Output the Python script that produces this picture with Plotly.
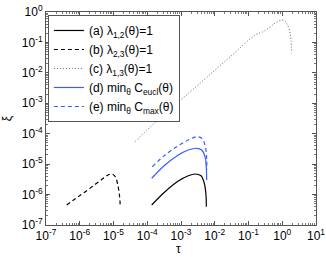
import plotly.graph_objects as go

# (a) lambda_{1,2}(theta)=1
tau_a = [1.355e-4, 3.36e-4, 8.32e-4, 1.645e-3, 2.60e-3, 3.92e-3, 4.90e-3, 5.50e-3, 5.62e-3]
xi_a = [4.55e-7, 1.244e-6, 2.79e-6, 4.17e-6, 4.74e-6, 4.17e-6, 2.35e-6, 9.69e-7, 4.0e-7]

# (b) lambda_{2,3}(theta)=1
tau_b = [4.10e-7, 7.23e-7, 1.43e-6, 2.83e-6, 4.89e-6, 6.87e-6, 9.03e-6, 1.147e-5, 1.36e-5, 1.51e-5, 1.59e-5]
xi_b = [4.55e-7, 7.16e-7, 1.22e-6, 2.14e-6, 3.37e-6, 4.40e-6, 4.74e-6, 3.78e-6, 1.91e-6, 8.98e-7, 3.91e-7]

# (c) lambda_{1,3}(theta)=1
tau_c = [4.34e-5, 2.08e-4, 3.66e-3, 2.83e-2, 0.156, 0.269, 0.434, 0.653, 0.964, 1.205, 1.479, 1.698, 1.815, 1.905]
xi_c = [5.47e-5, 2.82e-4, 4.54e-3, 3.32e-2, 0.175, 0.225, 0.321, 0.452, 0.546, 0.506, 0.347, 0.204, 0.120, 0.044]

# (d) min C_eucl
tau_d = [1.355e-4, 3.36e-4, 8.32e-4, 1.645e-3, 2.92e-3, 4.10e-3, 5.14e-3, 5.62e-3, 5.77e-3]
xi_d = [3.43e-6, 9.37e-6, 2.0e-5, 2.92e-5, 3.32e-5, 2.92e-5, 1.76e-5, 7.47e-6, 3.01e-6]

# (e) min C_max
tau_e = [1.41e-4, 3.36e-4, 8.32e-4, 1.645e-3, 2.92e-3, 4.10e-3, 5.14e-3, 5.77e-3, 5.77e-3]
xi_e = [8.24e-6, 2.0e-5, 4.04e-5, 6.22e-5, 7.98e-5, 7.07e-5, 4.26e-5, 1.556e-5, 6.43e-6]

x_tickvals = [1e-7, 1e-6, 1e-5, 1e-4, 1e-3, 1e-2, 1e-1, 1e0, 1e1]
x_ticktext = ["10<sup>-7</sup>", "10<sup>-6</sup>", "10<sup>-5</sup>", "10<sup>-4</sup>",
              "10<sup>-3</sup>", "10<sup>-2</sup>", "10<sup>-1</sup>", "10<sup>0</sup>", "10<sup>1</sup>"]
y_tickvals = [1e-7, 1e-6, 1e-5, 1e-4, 1e-3, 1e-2, 1e-1, 1e0]
y_ticktext = ["10<sup>-7</sup>", "10<sup>-6</sup>", "10<sup>-5</sup>", "10<sup>-4</sup>",
              "10<sup>-3</sup>", "10<sup>-2</sup>", "10<sup>-1</sup>", "10<sup>0</sup>"]

BLUE = "#3a5cff"
FONT = "Liberation Sans, Arial"
fig = go.Figure()
fig.add_trace(go.Scatter(x=tau_a, y=xi_a, mode="lines", name="(a) λ<sub>1,2</sub>(θ)=1",
                         line=dict(color="black", width=1.2, shape="spline")))
fig.add_trace(go.Scatter(x=tau_b, y=xi_b, mode="lines", name="(b) λ<sub>2,3</sub>(θ)=1",
                         line=dict(color="black", width=1.2, dash="4px,3px", shape="spline")))
fig.add_trace(go.Scatter(x=tau_c, y=xi_c, mode="lines", name="(c) λ<sub>1,3</sub>(θ)=1",
                         line=dict(color="#666666", width=1, dash="1px,2px", shape="spline")))
fig.add_trace(go.Scatter(x=tau_d, y=xi_d, mode="lines", name="(d) min<sub>θ</sub> C<sub>eucl</sub>(θ)",
                         line=dict(color=BLUE, width=1.2, shape="spline")))
fig.add_trace(go.Scatter(x=tau_e, y=xi_e, mode="lines", name="(e) min<sub>θ</sub> C<sub>max</sub>(θ)",
                         line=dict(color=BLUE, width=1.2, dash="4px,3px", shape="spline")))

axis_common = dict(type="log", showgrid=False, zeroline=False, showline=True, linecolor="#555555",
                   linewidth=1, mirror="ticks", ticks="inside", ticklen=4, tickcolor="#555555",
                   automargin=False,
                   tickfont=dict(family=FONT, size=12, color="black"),
                   minor=dict(ticks="inside", ticklen=2, tickcolor="#777777", dtick="D1", showgrid=False))

fig.update_xaxes(range=[-7, 1], tickvals=x_tickvals, ticktext=x_ticktext, **axis_common)
fig.update_yaxes(range=[-7, 0], tickvals=y_tickvals, ticktext=y_ticktext, **axis_common)

fig.add_annotation(text="τ", xref="paper", yref="paper", x=0.49, y=-0.115,
                   xanchor="center", yanchor="middle", showarrow=False,
                   font=dict(family=FONT, size=12, color="black"))
fig.add_annotation(text="ξ", xref="paper", yref="paper", x=-0.145, y=0.5,
                   xanchor="center", yanchor="middle", showarrow=False, textangle=-90,
                   font=dict(family=FONT, size=12, color="black"))

fig.update_layout(
    width=326, height=257,
    margin=dict(l=46, r=10, t=12, b=32, autoexpand=False),
    paper_bgcolor="white", plot_bgcolor="white",
    font=dict(family=FONT, size=12, color="black"),
    showlegend=True,
    legend=dict(x=0.007, y=0.986, xanchor="left", yanchor="top",
                bgcolor="white", bordercolor="#555555", borderwidth=1,
                font=dict(family=FONT, size=12, color="black"),
                itemwidth=30, tracegroupgap=0),
)

fig.write_html("out.html", config={"displayModeBar": False},
               post_script="document.body.style.margin='0px';")
